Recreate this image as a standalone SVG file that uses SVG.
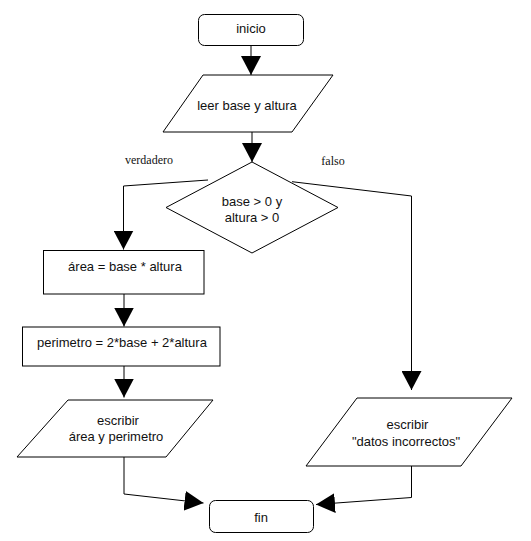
<svg xmlns="http://www.w3.org/2000/svg" width="531" height="541" viewBox="0 0 531 541">
<style>
.shape{fill:#fff;stroke:#000;stroke-width:1}
.conn{fill:none;stroke:#000;stroke-width:1;marker-end:url(#arrow)}
.t{font-family:"Liberation Sans",Arial,sans-serif;font-size:13px;fill:#111;text-anchor:middle}
.lbl{font-family:"Liberation Serif","Times New Roman",serif;font-size:12px;fill:#111;text-anchor:middle}
</style>
<defs>
<marker id="arrow" markerUnits="userSpaceOnUse" markerWidth="20" markerHeight="20" refX="19" refY="10" orient="auto" viewBox="0 0 20 20">
<path d="M0,0 L19,10 L0,20 z" fill="#000"/>
</marker>
</defs>
<rect width="531" height="541" fill="#fff"/>
<g id="connectors">
<path class="conn" d="M251,45 L251,75"/>
<path class="conn" d="M252,132 L252,162"/>
<path class="conn" d="M208,180 L123.5,186 L123.5,249.5"/>
<path class="conn" d="M124,294 L124,326.5"/>
<path class="conn" d="M124,366 L124,397.5"/>
<path class="conn" d="M292,181.7 L411.5,196 L411.5,390"/>
<path class="conn" d="M124,457 L124,494 L203.5,503"/>
<path class="conn" d="M411.5,466 L411.5,497.5 L316,504.5"/>
</g>
<g id="inicio">
<rect class="shape" x="198.5" y="14.5" width="105" height="31" rx="6"/>
<text class="t" x="251" y="33">inicio</text>
</g>
<g id="leer">
<polygon class="shape" points="203,75 333,75 292,132 163,132"/>
<text class="t" x="247" y="110">leer base y altura</text>
</g>
<g id="decision">
<polygon class="shape" points="252,162 338,207.5 252,253 166,207.5"/>
<text class="t" x="252" y="205.5">base &gt; 0 y</text>
<text class="t" x="252" y="221.5">altura &gt; 0</text>
</g>
<g id="labels">
<text class="lbl" x="149" y="164">verdadero</text>
<text class="lbl" x="333" y="164.5">falso</text>
</g>
<g id="area">
<rect class="shape" x="43.5" y="250.5" width="160.5" height="43.5"/>
<text class="t" x="125" y="270.5">área = base * altura</text>
</g>
<g id="perimetro">
<rect class="shape" x="22.5" y="327" width="197.5" height="39"/>
<text class="t" x="122" y="346.5">perimetro = 2*base + 2*altura</text>
</g>
<g id="escribir-resultado">
<polygon class="shape" points="68,400 213,400 166,457 17,457"/>
<text class="t" x="118" y="425">escribir</text>
<text class="t" x="116" y="441">área y perimetro</text>
</g>
<g id="escribir-error">
<polygon class="shape" points="357,398 512,398 461,466 306,466"/>
<text class="t" x="407.5" y="429">escribir</text>
<text class="t" x="406" y="446">"datos incorrectos"</text>
</g>
<g id="fin">
<rect class="shape" x="209.5" y="500.5" width="104" height="32" rx="6"/>
<text class="t" x="261" y="521.5">fin</text>
</g>
</svg>
